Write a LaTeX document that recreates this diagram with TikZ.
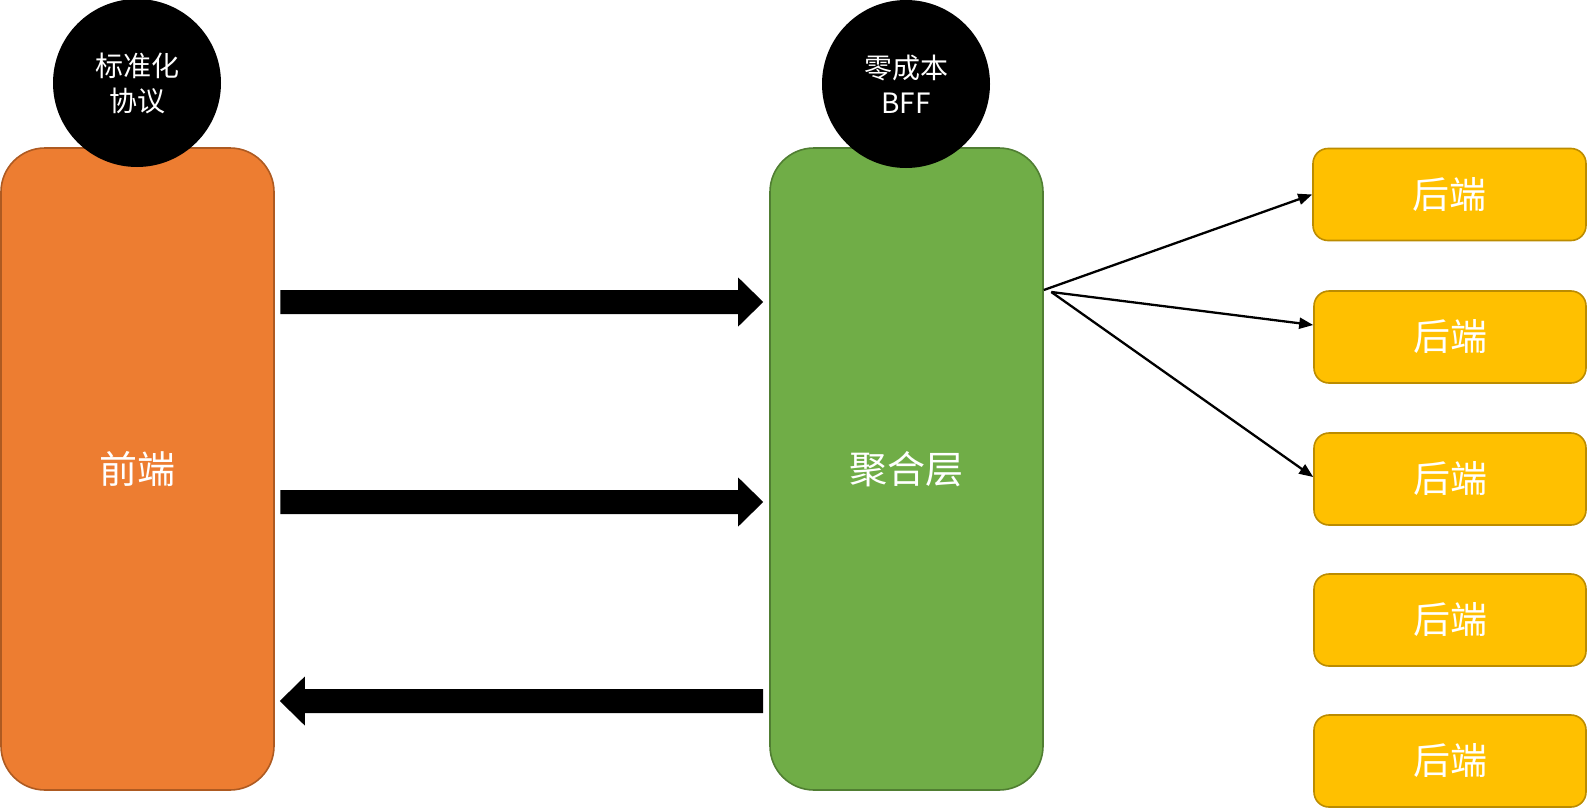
\documentclass[tikz,border=0pt]{standalone}
\usepackage{fontspec}
\newfontfamily\cjk{Noto Sans CJK SC}
\usetikzlibrary{arrows.meta,calc}
\definecolor{orangeF}{HTML}{ED7D31}
\definecolor{orangeD}{HTML}{AE5A21}
\definecolor{greenF}{HTML}{70AD47}
\definecolor{greenD}{HTML}{507E32}
\definecolor{yellowF}{HTML}{FFC000}
\definecolor{yellowD}{HTML}{BC8C00}
\tikzset{
  bigbox/.style={draw, line width=1.6pt, rounded corners=44pt, minimum width=273pt, minimum height=642pt, inner sep=0pt, text=white, font=\cjk\fontsize{38}{42}\selectfont},
  backbox/.style={draw=yellowD, fill=yellowF, line width=1.6pt, rounded corners=15pt, minimum width=272pt, minimum height=92pt, inner sep=0pt, text=white, font=\cjk\fontsize{37}{42}\selectfont},
  badge/.style={circle, fill=black, minimum size=168pt, inner sep=0pt, text=white, align=center, font=\cjk\fontsize{28}{35}\selectfont},
  thin/.style={line width=2.3pt, -{Triangle[length=14pt,width=11pt]}},
  fat/.style={fill=black}
}
\begin{document}
\begin{tikzpicture}[x=1pt,y=-1pt]
\useasboundingbox (0,0) rectangle (1588,809);
\node[bigbox, draw=orangeD, fill=orangeF] (front) at (137.5,469) {\raisebox{-2pt}{前端}};
\node[bigbox, draw=greenD, fill=greenF] (agg) at (906.5,469) {\raisebox{-2pt}{聚合层}};
\node[badge] (std) at (137,83) {标准化\\协议};
\node[badge] (bff) at (906,84) {零成本\\BFF};
\node[backbox, minimum width=273pt] (b1) at (1449.5,194.5) {后端};
\node[backbox] (b2) at (1450,337) {后端};
\node[backbox] (b3) at (1450,479) {后端};
\node[backbox] (b4) at (1450,620) {后端};
\node[backbox] (b5) at (1450,761) {后端};
% fat arrows
\coordinate (a1s) at ([xshift=5.5pt,yshift=167pt]front.east);
\coordinate (a1e) at ([xshift=-6pt,yshift=167pt]agg.west);
\coordinate (a2s) at ([xshift=5.5pt,yshift=-33pt]front.east);
\coordinate (a2e) at ([xshift=-6pt,yshift=-33pt]agg.west);
\coordinate (a3s) at ([xshift=-6pt,yshift=-232pt]agg.west);
\coordinate (a3e) at ([xshift=5pt,yshift=-232pt]front.east);
\fill[fat] ($(a1s)+(0,-12)$) -- ($(a1e)+(-25,-12)$) -- ($(a1e)+(-25,-24.5)$) -- (a1e) -- ($(a1e)+(-25,24.5)$) -- ($(a1e)+(-25,12)$) -- ($(a1s)+(0,12)$) -- cycle;
\fill[fat] ($(a2s)+(0,-12)$) -- ($(a2e)+(-25,-12)$) -- ($(a2e)+(-25,-24.5)$) -- (a2e) -- ($(a2e)+(-25,24.5)$) -- ($(a2e)+(-25,12)$) -- ($(a2s)+(0,12)$) -- cycle;
\fill[fat] ($(a3s)+(0,-12)$) -- ($(a3e)+(25,-12)$) -- ($(a3e)+(25,-24.5)$) -- (a3e) -- ($(a3e)+(25,24.5)$) -- ($(a3e)+(25,12)$) -- ($(a3s)+(0,12)$) -- cycle;
% thin arrows
\coordinate (src1) at ([yshift=179pt]agg.east);
\coordinate (src2) at ([xshift=7.5pt,yshift=177pt]agg.east);
\draw[thin] (src1) -- (b1.west);
\draw[thin] (src2) -- ([yshift=12pt]b2.west);
\draw[thin] (src2) -- ([yshift=2pt]b3.west);
\end{tikzpicture}
\end{document}
